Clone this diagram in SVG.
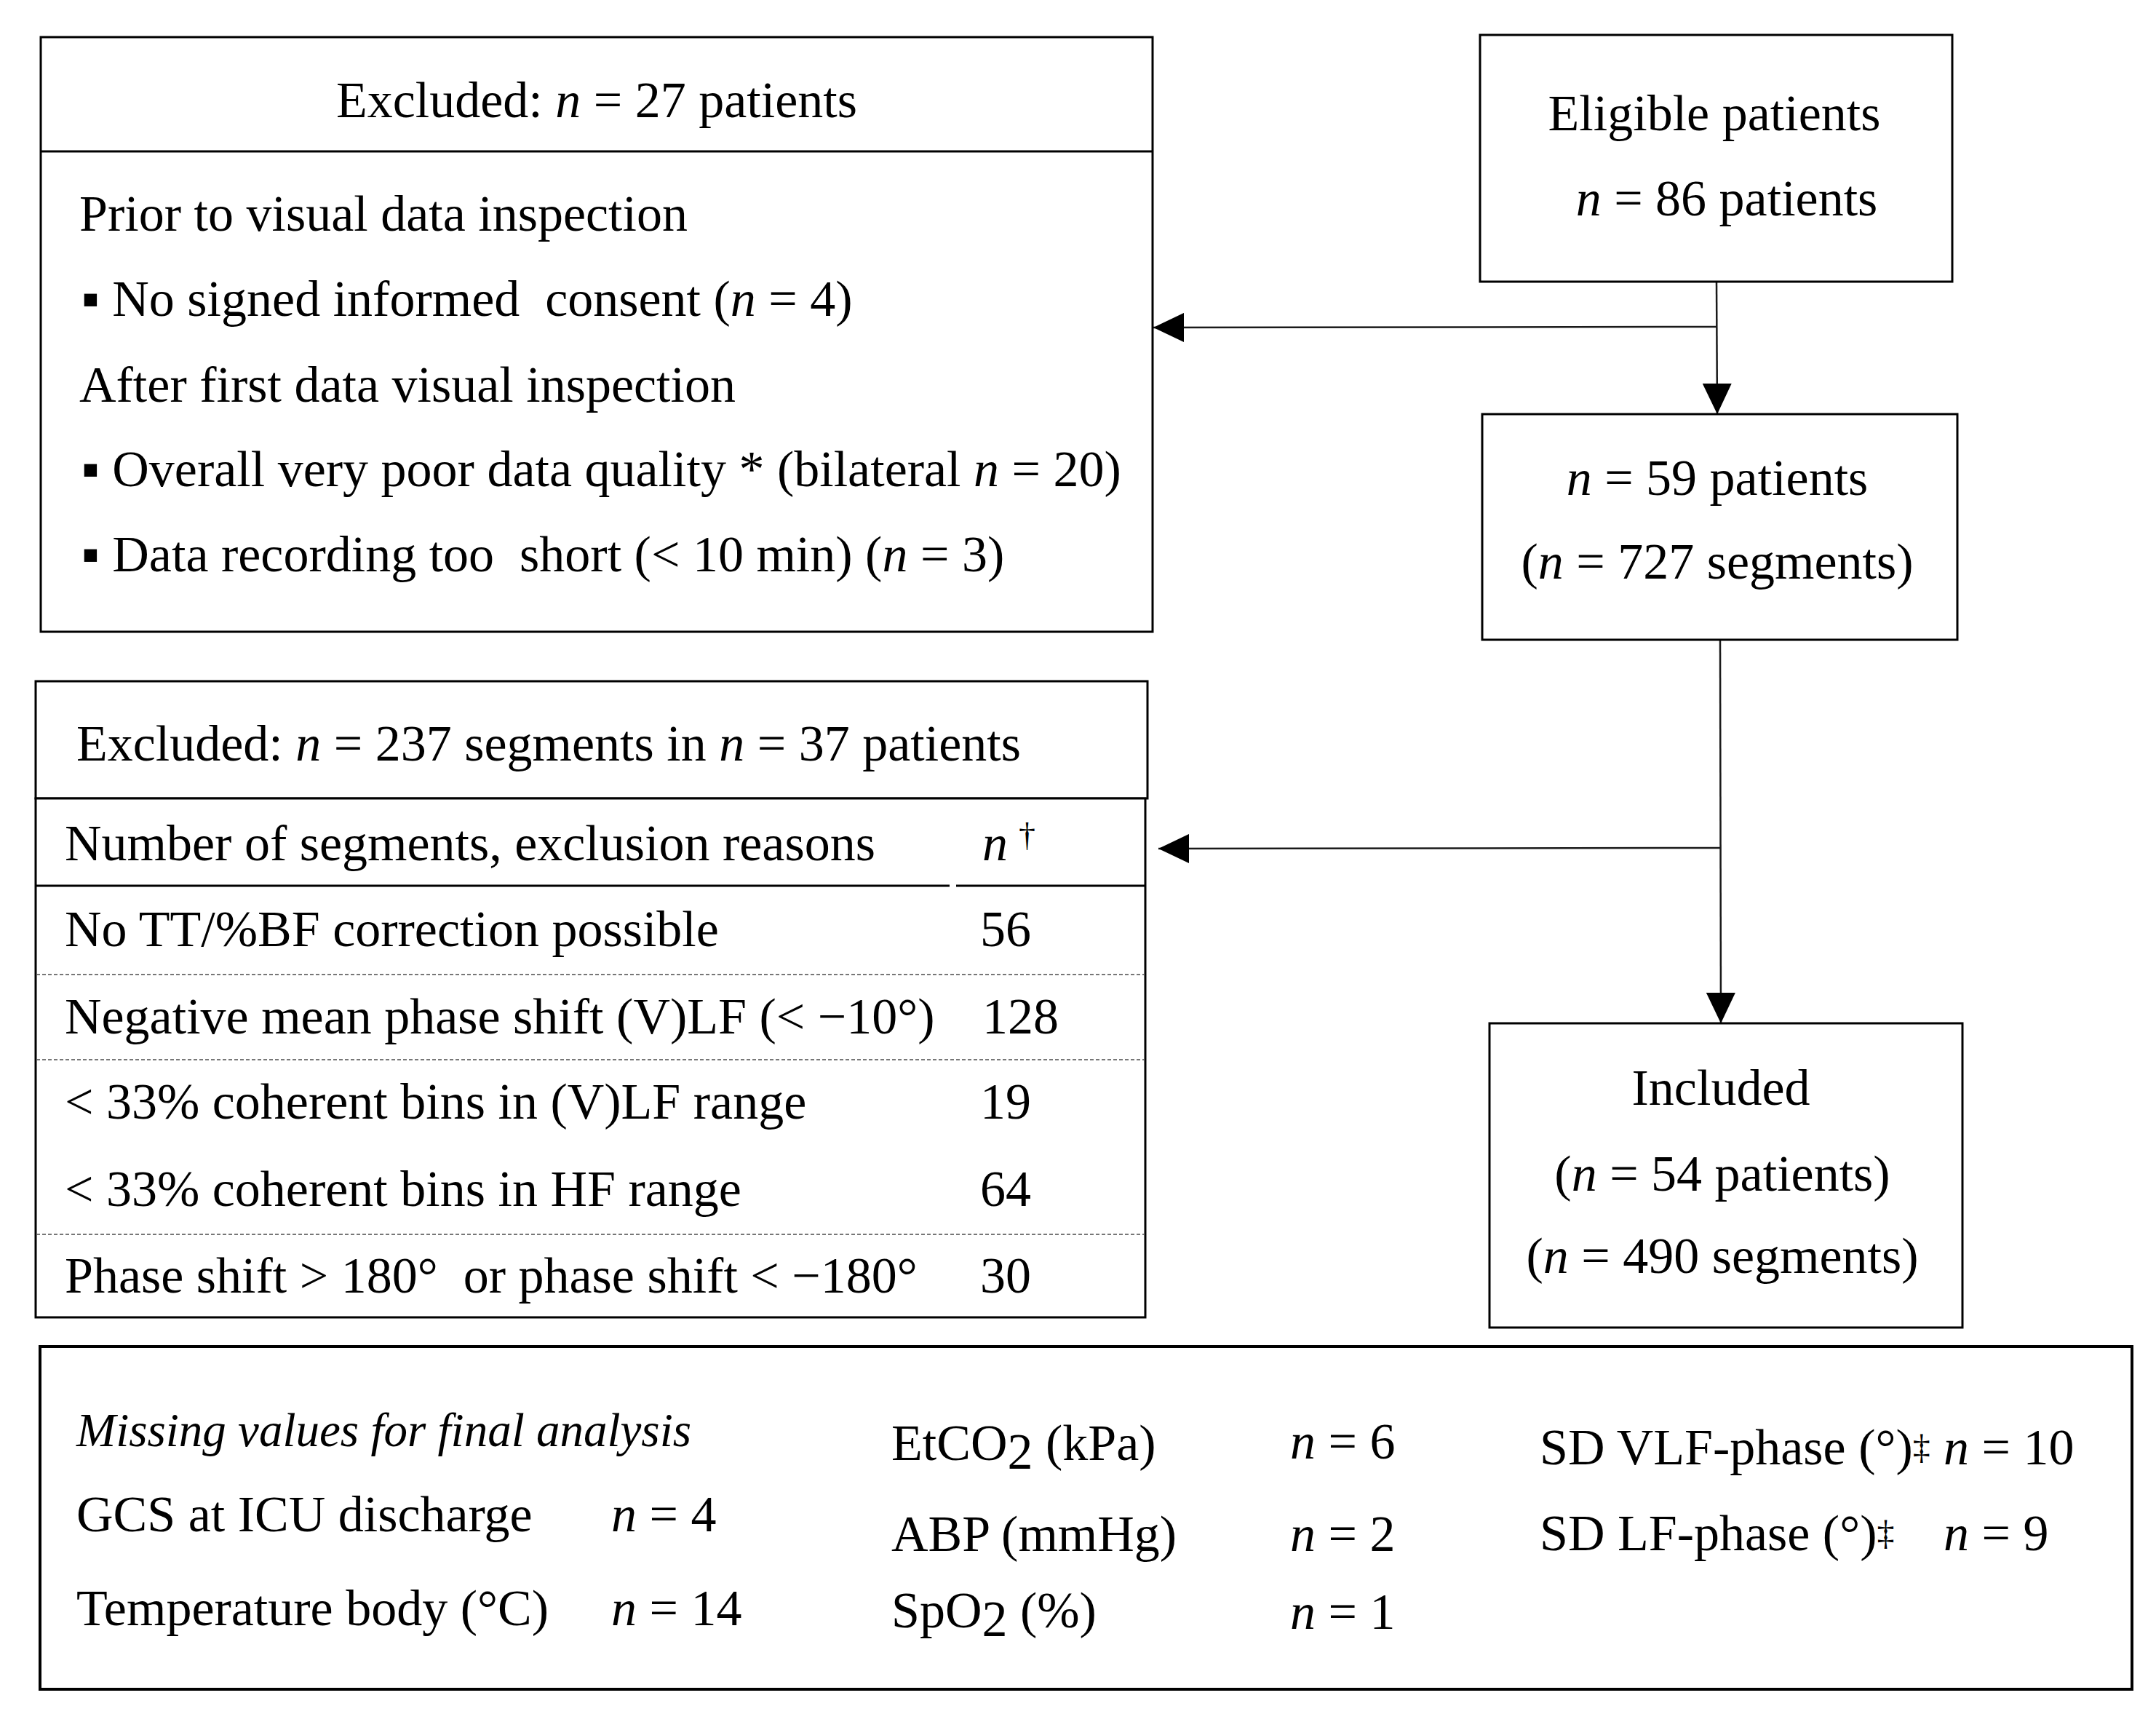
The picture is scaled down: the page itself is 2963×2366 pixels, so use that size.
<svg xmlns="http://www.w3.org/2000/svg" width="2963" height="2366" viewBox="0 0 2963 2366">
<defs>
<style>
.box{fill:#fff;stroke:#000;stroke-width:3}
.t{font-family:"Liberation Serif","Times New Roman",serif;font-size:70px;fill:#000}
.c{text-anchor:middle}
.i{font-style:italic}
.con{fill:none;stroke:#1a1a1a;stroke-width:2.5}
.dash{stroke:#777;stroke-width:2;stroke-dasharray:5 3}
.sol{stroke:#000;stroke-width:3}
.sup{font-size:46px}
</style>
<marker id="ah" markerUnits="userSpaceOnUse" markerWidth="42" markerHeight="40" refX="42" refY="20" orient="auto">
<path d="M0,0 L42,20 L0,40 Z" fill="#000"/>
</marker>
</defs>
<rect width="2963" height="2366" fill="#fff"/>

<g id="connectors">
<line class="con" x1="2359" y1="387" x2="2360" y2="569" marker-end="url(#ah)"/>
<line class="con" x1="2359" y1="449" x2="1585" y2="450" marker-end="url(#ah)"/>
<line class="con" x1="2364" y1="879" x2="2365" y2="1406" marker-end="url(#ah)"/>
<line class="con" x1="2364" y1="1165" x2="1592" y2="1166" marker-end="url(#ah)"/>
</g>

<g id="excluded-patients">
<rect class="box" x="56" y="51" width="1528" height="817"/>
<line class="sol" x1="56" y1="208" x2="1584" y2="208"/>
<text class="t c" x="820" y="161">Excluded: <tspan class="i">n</tspan> = 27 patients</text>
<text class="t" x="109" y="317">Prior to visual data inspection</text>
<text class="t" x="112" y="434" xml:space="preserve">▪ No signed informed  consent (<tspan class="i">n</tspan> = 4)</text>
<text class="t" x="109" y="552">After first data visual inspection</text>
<text class="t" x="112" y="668">▪ Overall very poor data quality * (bilateral <tspan class="i">n</tspan> = 20)</text>
<text class="t" x="112" y="785" xml:space="preserve">▪ Data recording too  short (&lt; 10 min) (<tspan class="i">n</tspan> = 3)</text>
</g>

<g id="eligible">
<rect class="box" x="2034" y="48" width="649" height="339"/>
<text class="t c" x="2356" y="179">Eligible patients</text>
<text class="t c" x="2373" y="296"><tspan class="i">n</tspan> = 86 patients</text>
</g>

<g id="n59">
<rect class="box" x="2037" y="569" width="653" height="310"/>
<text class="t c" x="2360" y="680"><tspan class="i">n</tspan> = 59 patients</text>
<text class="t c" x="2360" y="795">(<tspan class="i">n</tspan> = 727 segments)</text>
</g>

<g id="excluded-segments">
<rect class="box" x="49" y="936" width="1528" height="161"/>
<text class="t" x="105" y="1045">Excluded: <tspan class="i">n</tspan> = 237 segments in <tspan class="i">n</tspan> = 37 patients</text>
<rect class="box" x="49" y="1097" width="1525" height="713"/>
<line class="sol" x1="49" y1="1217" x2="1305" y2="1217"/>
<line class="sol" x1="1314" y1="1217" x2="1574" y2="1217"/>
<line class="dash" x1="50" y1="1339" x2="1573" y2="1339"/>
<line class="dash" x1="50" y1="1456" x2="1573" y2="1456"/>
<line class="dash" x1="50" y1="1696" x2="1573" y2="1696"/>
<text class="t" x="89" y="1182">Number of segments, exclusion reasons</text>
<text class="t" x="1350" y="1182"><tspan class="i">n</tspan></text>
<text class="t sup" x="1400" y="1163">†</text>
<text class="t" x="89" y="1300">No TT/%BF correction possible</text>
<text class="t" x="1347" y="1300">56</text>
<text class="t" x="89" y="1420">Negative mean phase shift (V)LF (&lt; −10°)</text>
<text class="t" x="1350" y="1420">128</text>
<text class="t" x="89" y="1537">&lt; 33% coherent bins in (V)LF range</text>
<text class="t" x="1347" y="1537">19</text>
<text class="t" x="89" y="1657">&lt; 33% coherent bins in HF range</text>
<text class="t" x="1347" y="1657">64</text>
<text class="t" x="89" y="1776" xml:space="preserve">Phase shift &gt; 180°  or phase shift &lt; −180°</text>
<text class="t" x="1347" y="1776">30</text>
</g>

<g id="included">
<rect class="box" x="2047" y="1406" width="650" height="418"/>
<text class="t c" x="2365" y="1518">Included</text>
<text class="t c" x="2367" y="1636">(<tspan class="i">n</tspan> = 54 patients)</text>
<text class="t c" x="2367" y="1749">(<tspan class="i">n</tspan> = 490 segments)</text>
</g>

<g id="missing-values">
<rect class="box" x="55" y="1850" width="2875" height="471" style="stroke-width:4"/>
<text class="t i" x="105" y="1987" style="font-size:65px">Missing values for final analysis</text>
<text class="t" x="105" y="2104">GCS at ICU discharge</text>
<text class="t" x="840" y="2104"><tspan class="i">n</tspan> = 4</text>
<text class="t" x="105" y="2233">Temperature body (°C)</text>
<text class="t" x="840" y="2233"><tspan class="i">n</tspan> = 14</text>
<text class="t" x="1225" y="2006">EtCO<tspan dy="12">2</tspan><tspan dy="-12"> (kPa)</tspan></text>
<text class="t" x="1773" y="2004"><tspan class="i">n</tspan> = 6</text>
<text class="t" x="1225" y="2131">ABP (mmHg)</text>
<text class="t" x="1773" y="2131"><tspan class="i">n</tspan> = 2</text>
<text class="t" x="1225" y="2236">SpO<tspan dy="12">2</tspan><tspan dy="-12"> (%)</tspan></text>
<text class="t" x="1773" y="2238"><tspan class="i">n</tspan> = 1</text>
<text class="t" x="2116" y="2012">SD VLF-phase (°)<tspan dy="-8" style="font-size:48px">‡</tspan></text>
<text class="t" x="2671" y="2012"><tspan class="i">n</tspan> = 10</text>
<text class="t" x="2116" y="2130">SD LF-phase (°)<tspan dy="-8" style="font-size:48px">‡</tspan></text>
<text class="t" x="2671" y="2130"><tspan class="i">n</tspan> = 9</text>
</g>
</svg>
